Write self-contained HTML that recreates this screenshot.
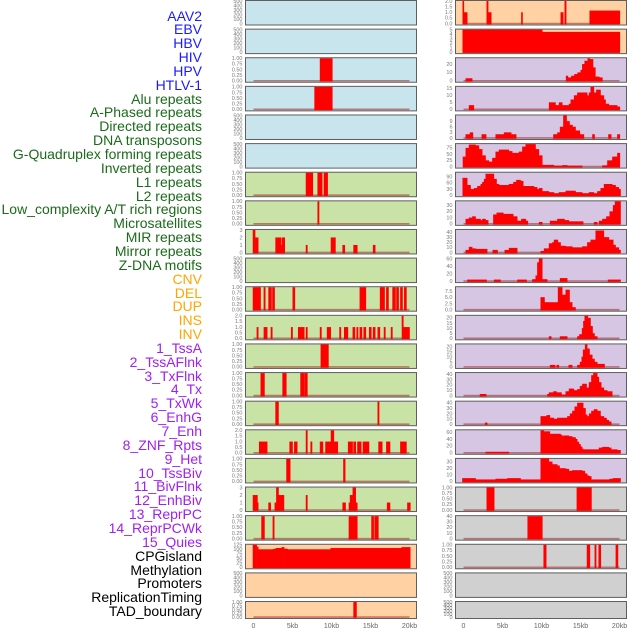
<!DOCTYPE html>
<html><head><meta charset="utf-8">
<style>
html,body{margin:0;padding:0;background:#fff;}
#wrap{position:relative;width:630px;height:630px;overflow:hidden;}
.lab{position:absolute;right:428px;font-family:"Liberation Sans",sans-serif;font-size:14px;line-height:14px;white-space:nowrap;}
svg{position:absolute;left:0;top:0;}
</style></head>
<body>
<div id="wrap">
<div id="labels"></div>
<svg id="chart" width="630" height="630"></svg>
</div>
<script>
// ---------- data ----------
const trackNames = ["AAV2","EBV","HBV","HIV","HPV","HTLV-1","Alu repeats","A-Phased repeats","Directed repeats","DNA transposons","G-Quadruplex forming repeats","Inverted repeats","L1 repeats","L2 repeats","Low_complexity A/T rich regions","Microsatellites","MIR repeats","Mirror repeats","Z-DNA motifs","CNV","DEL","DUP","INS","INV","1_TssA","2_TssAFlnk","3_TxFlnk","4_Tx","5_TxWk","6_EnhG","7_Enh","8_ZNF_Rpts","9_Het","10_TssBiv","11_BivFlnk","12_EnhBiv","13_ReprPC","14_ReprPCWk","15_Quies","CPGisland","Methylation","Promoters","ReplicationTiming","TAD_boundary"];
const labelGroups = ["v","v","v","v","v","v","r","r","r","r","r","r","r","r","r","r","r","r","r","s","s","s","s","s","c","c","c","c","c","c","c","c","c","c","c","c","c","c","c","o","o","o","o","o"];
const xTickValues = [0,5,10,15,20];
const xTickLabels = ["0","5kb","10kb","15kb","20kb"];

const tk01 = ["0.00","0.25","0.50","0.75","1.00"], tv01=[0,0.25,0.5,0.75,1];
const tk500 = ["0","100","200","300","400","500"], tv500=[0,100,200,300,400,500];
const tk2 = ["0.0","0.5","1.0","1.5","2.0"], tv2=[0,0.5,1,1.5,2];
const tk3 = ["0","1","2","3"], tv3=[0,1,2,3];

// left column tracks
const L = [
 {bg:"b",max:500,tv:tv500,tl:tk500,empty:true},
 {bg:"b",max:500,tv:tv500,tl:tk500,empty:true},
 {bg:"b",max:1,tv:tv01,tl:tk01,segs:[[8.5,10.1,1]]},
 {bg:"b",max:1,tv:tv01,tl:tk01,segs:[[7.8,10.1,1]]},
 {bg:"b",max:500,tv:tv500,tl:tk500,empty:true},
 {bg:"b",max:500,tv:tv500,tl:tk500,empty:true},
 {bg:"g",max:1,tv:tv01,tl:tk01,segs:[[6.7,7.6,1],[8.2,8.8,1],[9.0,9.5,1]]},
 {bg:"g",max:1,tv:tv01,tl:tk01,segs:[[8.2,8.4,1]]},
 {bg:"g",max:3,tv:tv3,tl:tk3,segs:[[-0.1,0.2,3],[0.2,0.6,2],[2.8,3.5,2],[3.5,3.6,1],[3.6,4.0,2],[6.7,6.9,1],[9.9,10.5,2],[11.4,11.7,1],[12.8,13.3,1],[15.3,15.6,1]]},
 {bg:"g",max:500,tv:tv500,tl:tk500,empty:true},
 {bg:"g",max:1,tv:tv01,tl:tk01,segs:[[-0.1,0.9,1],[1.3,1.5,1],[1.9,2.3,1],[2.4,2.7,1],[5.0,5.3,1],[13.6,14.4,1],[16.2,16.8,1],[17.0,17.3,1],[17.8,18.2,1],[18.3,18.6,1],[18.8,19.1,1],[19.3,19.6,1]]},
 {bg:"g",max:2,tv:tv2,tl:tk2,segs:[[0.4,0.6,1],[1.3,1.75,1],[2.2,2.4,1],[4.8,5.0,1],[5.7,6.5,1],[6.7,6.9,1],[8.5,8.7,1],[9.4,9.9,1],[11.0,11.2,1],[11.6,12.1,1],[12.7,13.0,1],[13.2,13.4,1],[13.6,13.9,1],[14.1,14.4,1],[14.8,15.1,1],[15.3,15.6,1],[15.9,16.2,1],[16.7,16.9,1],[17.6,17.8,1],[19.0,19.2,2],[19.2,20.0,1]]},
 {bg:"g",max:1,tv:tv01,tl:tk01,segs:[[8.6,9.6,1]]},
 {bg:"g",max:1,tv:tv01,tl:tk01,segs:[[0.9,1.4,1],[3.7,4.2,1],[6.0,6.45,1],[6.5,6.9,1]]},
 {bg:"g",max:1,tv:tv01,tl:tk01,segs:[[2.8,3.2,1],[15.9,16.1,1]]},
 {bg:"g",max:2,tv:tv2,tl:tk2,segs:[[0.7,1.75,1],[4.6,5.0,1],[5.2,5.6,1],[6.7,6.9,2],[7.3,7.5,1],[8.5,8.9,1],[9.2,9.9,1],[9.9,10.3,2],[10.3,10.8,1],[12.1,12.7,1],[12.8,13.1,1],[13.3,13.8,1],[14.0,14.8,1],[16.0,16.5,1],[17.0,17.5,1],[18.8,19.6,1]]},
 {bg:"g",max:1,tv:tv01,tl:tk01,segs:[[4.2,4.7,1],[11.5,11.75,1]]},
 {bg:"g",max:3,tv:tv3,tl:tk3,segs:[[-0.1,0.5,2],[0.5,0.6,1],[1.9,2.2,1],[2.7,2.9,1],[2.9,3.2,3],[3.2,3.9,2],[6.7,6.9,2],[11.4,11.8,1],[12.2,12.35,1],[12.35,12.7,2],[12.7,13.1,3],[13.1,13.3,1],[17.1,17.5,1],[19.7,20.1,1]]},
 {bg:"g",max:1,tv:tv01,tl:tk01,segs:[[1.0,1.4,1],[2.45,2.65,1],[12.2,13.3,1],[15.1,15.4,1],[15.5,16.0,1]]},
 {bg:"o",max:125,tv:[0,25,50,75,100,125],tl:["0","25","50","75","100","125"],xs:[-0.1,0.4,0.6,2.48,2.82,3.59,3.93,4.36,9.87,18.97,20.09],vs:[125,115,100,102,107,112,103,100,107,112]},
 {bg:"o",max:500,tv:tv500,tl:tk500,empty:true},
 {bg:"o",max:1,tv:tv01,tl:tk01,segs:[[12.8,13.2,1]],short:true}
];
// right column tracks
const R = [
 {bg:"o",max:2,tv:tv2,tl:tk2,segs:[[-0.13,0.04,2],[0.04,0.47,1],[2.95,3.16,2],[3.16,3.55,1],[7.39,7.56,1],[12.44,12.78,1],[12.95,13.16,2],[16.15,20.04,1.15]]},
 {bg:"o",max:5,tv:[0,1,2,3,4,5],tl:["0","1","2","3","4","5"],xs:[-0.13,10.09,20.04],vs:[5,4.5]},
 {bg:"p",max:27,tv:[0,10,20],tl:["0","10","20"],segs:[[0.26,1.11,3]],xs:[13.12,13.38,13.8,14.2,14.6,15.0,15.2,15.5,15.9,16.2,16.6,16.9,17.4,17.8],vs:[6,4,6,8,10,13,20,24,27,26,16,5,4]},
 {bg:"p",max:16,tv:[0,5,10,15],tl:["0","5","10","15"],segs:[[0.68,1.32,3]],xs:[10.94,11.79,12.22,12.65,13.5,13.72,14.15,14.57,15.85,16.07,16.28,16.71,17.01,17.56,17.99,18.21,18.63,19.7,20.04],vs:[5,3,5,3,4,7,10,12,10,12,16,12,14,10,7,4,3,2]},
 {bg:"p",max:12,tv:[0,3,6,9],tl:["0","3","6","9"],segs:[[0.26,0.8,2],[0.8,1.2,3],[2.31,2.9,2],[4.1,5.17,2],[5.17,6.11,3],[6.11,6.75,2],[16.5,16.8,2],[18.55,18.93,2],[19.7,20.04,2]],xs:[11.5,12.01,12.35,12.78,13.21,13.59,13.97,14.36,14.91,15.43],vs:[2,3,6,12,9,7,6,4,2]},
 {bg:"p",max:90,tv:[0,25,50,75],tl:["0","25","50","75"],xs:[-0.1,0.26,0.68,1.54,1.97,2.39,2.82,3.25,3.68,4.1,4.53,5.81,6.24,7.09,7.52,7.95,9.23,9.66,10.09,11.58,12.65,13.29,15.21,17.78,18.42,19.06,19.7,20.04],vs:[40,75,88,85,70,45,25,20,35,60,68,62,55,60,80,90,70,45,7,4,6,4,0,5,25,40,55]},
 {bg:"p",max:110,tv:[0,30,60,90],tl:["0","30","60","90"],xs:[-0.13,0.47,0.9,1.32,1.75,2.18,2.39,2.61,2.82,3.89,4.23,4.53,5.17,5.81,6.37,6.75,7.31,7.65,9.02,9.44,9.66,10.09,10.94,11.58,12.22,13.08,14.36,15.21,16.07,16.71,17.14,17.56,17.99,19.06,19.49,19.91,20.13],vs:[85,50,30,35,45,55,65,80,105,80,55,50,50,55,65,75,70,45,40,30,35,20,15,10,15,22,15,10,15,10,20,35,55,50,40,30]},
 {bg:"p",max:36,tv:[0,10,20,30],tl:["0","10","20","30"],xs:[0.26,0.68,1.11,1.54,2.18,2.39,2.82,3.16,3.8,4.23,5.09,6.37,6.88,7.39,7.99,8.25,9.66,10.09,11.07,12.01,12.95,13.5,15.34,16.71,17.14,17.35,17.78,18.29,18.72,19.15,19.4,20.13],vs:[8,10,12,8,6,8,6,0,15,18,16,12,5,8,5,0,3,0,5,8,6,4,0,3,0,5,8,12,20,30,36]},
 {bg:"p",max:44,tv:[0,10,20,30,40],tl:["0","10","20","30","40"],xs:[0.26,0.68,1.11,1.54,3.03,3.72,4.36,5.26,5.81,6.88,9.87,10.3,10.94,11.37,11.58,12.09,12.44,13.08,13.93,15.21,15.85,16.28,16.92,17.99,18.63,19.19,19.49,19.91,20.13],vs:[5,11,8,7,0,5,0,5,9,0,3,8,18,20,25,20,13,12,10,12,20,25,43,30,25,15,10,5]},
 {bg:"p",max:60,tv:[0,20,40,60],tl:["0","20","40","60"],xs:[0.47,2.95,3.89,4.74,6.88,8.08,8.8,9.23,9.44,9.66,10.09,10.73,12.35,13.29,18.5,20.13],vs:[4,0,4,0,4,0,5,15,50,60,5,0,8,0,4]},
 {bg:"p",max:9,tv:[0,2.5,5,7.5],tl:["0.0","2.5","5.0","7.5"],xs:[9.87,10.38,12.09,12.65,13.08,13.59,13.93,14.36],vs:[5,3,9,6,8,3,1]},
 {bg:"p",max:22,tv:[0,5,10,15,20],tl:["0","5","10","15","20"],xs:[10.94,11.24,12.35,13.29,14.57,14.83,15.17,15.34,15.51,15.94,16.28,16.54,16.79,17.14],vs:[2,0,2,0,2,4,10,17,22,20,12,5,2]},
 {bg:"p",max:22,tv:[0,5,10,15,20],tl:["0","5","10","15","20"],xs:[11.07,11.75,11.92,12.22,13.46,13.93,14.57,14.91,15.13,15.3,15.56,15.85,16.15,16.5,16.79,17.14,18.08],vs:[2,0,2,0,2,0,2,5,10,17,22,18,12,8,5,3]},
 {bg:"p",max:42,tv:[0,10,20,30,40],tl:["0","10","20","30","40"],segs:[[2.09,2.9,3]],xs:[10.73,10.94,11.5,11.92,12.56,13.08,13.5,14.15,14.57,14.91,15.21,15.77,16.07,16.37,16.62,17.14,17.35,17.65,17.99,18.42,19.06],vs:[3,6,8,6,2,8,13,10,12,18,22,15,25,38,42,35,25,15,10,8]},
 {bg:"p",max:42,tv:[0,10,20,30,40],tl:["0","10","20","30","40"],segs:[[2.74,3.03,3]],xs:[9.87,10.64,11.07,11.58,12.01,13.29,13.63,13.93,14.23,14.57,15.34,15.64,15.85,16.07,16.37,16.71,17.14,17.56,17.99,18.33,18.63,18.93],vs:[15,17,12,10,12,15,20,25,33,40,30,18,15,20,25,28,25,15,12,8,5]},
 {bg:"p",max:65,tv:[0,20,40,60],tl:["0","20","40","60"],segs:[[2.82,5.81,3]],xs:[9.87,10.3,11.07,12.44,12.65,12.78,13.5,13.93,14.36,14.57,14.79,15.0,15.21,15.34,17.35,17.78,18.63,18.93,19.7,20.13],vs:[65,62,55,52,48,50,48,45,40,32,25,18,12,10,15,17,15,10,8]},
 {bg:"p",max:34,tv:[0,10,20,30],tl:["0","10","20","30"],xs:[-0.17,1.54,4.1,5.6,7.31,9.87,10.94,11.37,12.01,12.31,13.08,13.5,13.93,15.21,15.56,15.85,16.07,16.37,18.72,19.15,20.13],vs:[5,3,4,5,3,35,30,26,24,20,19,16,17,16,12,9,8,3,4,5]},
 {bg:"y",max:1,tv:tv01,tl:tk01,segs:[[2.95,3.93,1],[14.5,16.4,1]]},
 {bg:"y",max:40,tv:[0,10,20,30,40],tl:["0","10","20","30","40"],segs:[[8.2,10.1,40]]},
 {bg:"y",max:1,tv:tv01,tl:tk01,segs:[[10.25,10.6,1],[15.8,16.2,1],[16.8,17.0,1],[17.3,17.6,1],[19.5,19.8,1]]},
 {bg:"y",max:500,tv:tv500,tl:tk500,empty:true},
 {bg:"y",max:500,tv:tv500,tl:tk500,empty:true,short:true}
];

// ---------- rendering ----------
const NS="http://www.w3.org/2000/svg";
const svg=document.getElementById('chart');
const bgColors={b:"#c8e4ec",g:"#c9e2a6",o:"#ffd1a3",p:"#d6c6e3",y:"#d0d0d0"};
const labelColors={v:"#1a1aff",r:"#1a6b1a",s:"#ffa500",c:"#a020f0",o:"#000000"};
const colX=[245.5,455.5], panelW=171, rowStep=28.62, panelH=24.5, shortH=17;
function xScale(col,kb){return colX[col]+8+kb*7.8;}
function mk(tag,attrs,parent){const e=document.createElementNS(NS,tag);for(const k in attrs)e.setAttribute(k,attrs[k]);(parent||svg).appendChild(e);return e;}

// labels
const labDiv=document.getElementById('labels');
trackNames.forEach((n,i)=>{
  const d=document.createElement('div');
  d.className='lab';
  
  
  d.style.top=(8.5+i*13.85)+'px';
  d.style.color=labelColors[labelGroups[i]];
  d.textContent=n;
  labDiv.appendChild(d);
});

function drawPanel(col,idx,t){
  const top=0.5+idx*rowStep, h=t.short?shortH:panelH, x0=colX[col];
  const g=mk('g',{});
  
  
  const bg=mk('rect',{x:x0,y:top,width:panelW,height:h,fill:bgColors[t.bg],stroke:"#5e5e5e","stroke-width":1},g);
  
  
  const y=v=>top+h-1.5-(v/t.max)*(h-2);
  // ticks
  t.tv.forEach((v,k)=>{
    const tx=mk('text',{x:x0-3,y:y(v)+1.8,"text-anchor":"end","font-family":"Liberation Sans, sans-serif","font-size":"5.5",fill:"#7a7a7a"},g);
    
    
    tx.textContent=t.tl[k];
  });
  if(t.empty) return;
  const cp='clip'+col+'_'+idx;
  const cl=mk('clipPath',{id:cp},g);
  mk('rect',{x:x0,y:top,width:panelW,height:h},cl);
  const dg=mk('g',{"clip-path":"url(#"+cp+")"},g);
  const base=mk('line',{x1:xScale(col,0),x2:xScale(col,20),y1:y(0),y2:y(0),stroke:"rgba(160,40,40,0.55)","stroke-width":1.6},dg);
  
  
  const bars=[];
  (t.segs||[]).forEach(s=>bars.push(s));
  if(t.xs){for(let k=0;k<t.vs.length;k++)bars.push([t.xs[k],t.xs[k+1],t.vs[k]]);}
  bars.forEach(s=>{
    if(s[2]<=0) return;
    const xa=xScale(col,s[0]), xb=xScale(col,s[1]);
    const r=mk('rect',{x:xa,y:y(s[2]),width:Math.max(0.8,xb-xa+0.3),height:y(0)-y(s[2])+0.8,fill:"#ff0000"},dg);
    
    
  });
}
L.forEach((t,i)=>drawPanel(0,i,t));
R.forEach((t,i)=>drawPanel(1,i,t));

// x axes
[0,1].forEach(col=>{
  xTickValues.forEach((v,k)=>{
    const tx=mk('text',{x:xScale(col,v),y:628,"text-anchor":"middle","font-family":"Liberation Sans, sans-serif","font-size":"7",fill:"#666"});
    
    
    tx.textContent=xTickLabels[k];
  });
});
</script>
</body></html>
